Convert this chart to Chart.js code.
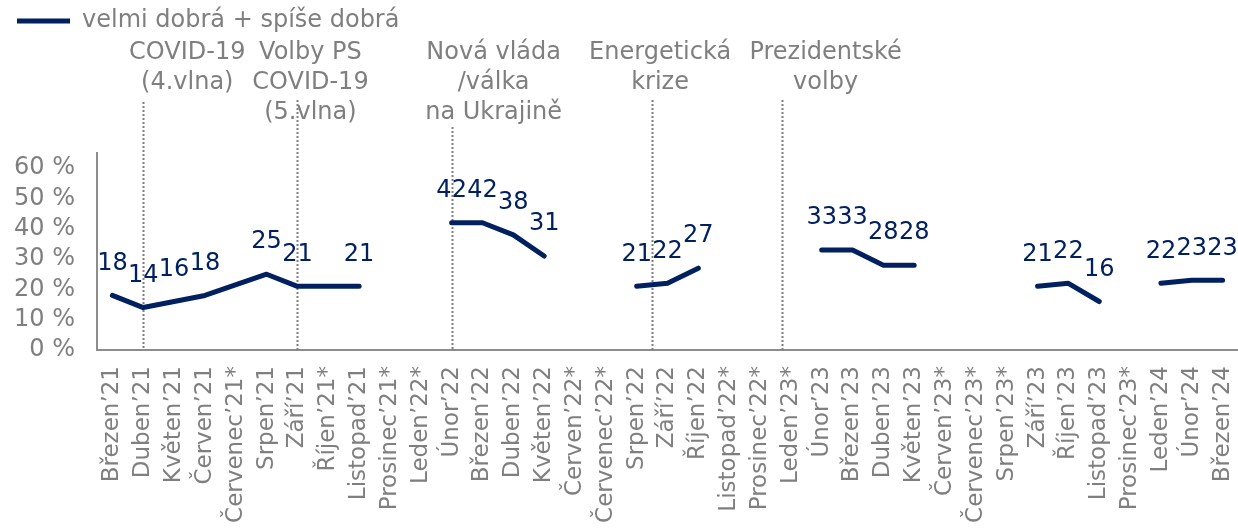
<!DOCTYPE html>
<html>
<head>
<meta charset="utf-8">
<script src="https://cdn.jsdelivr.net/npm/chart.js@4/dist/chart.umd.min.js"></script>
<style>
  html, body { margin: 0; padding: 0; background: #fff; }
  #wrap { width: 1238px; height: 530px; position: relative; }
</style>
</head>
<body>
<div id="wrap"><canvas id="c"></canvas></div>
<script>
// ── data ──
const months = [
  'Březen’21','Duben’21','Květen’21','Červen’21','Červenec’21*','Srpen’21','Září’21','Říjen’21*',
  'Listopad’21','Prosinec’21*','Leden’22*','Únor’22','Březen’22','Duben’22','Květen’22','Červen’22*',
  'Červenec’22*','Srpen’22','Září’22','Říjen’22','Listopad’22*','Prosinec’22*','Leden’23*','Únor’23',
  'Březen’23','Duben’23','Květen’23','Červen’23*','Červenec’23*','Srpen’23*','Září’23','Říjen’23',
  'Listopad’23','Prosinec’23*','Leden’24','Únor’24','Březen’24'
];
const goodShare = [
  18, 14, 16, 18, null, 25, 21, null,
  21, null, null, 42, 42, 38, 31, null,
  null, 21, 22, 27, null, null, null, 33,
  33, 28, 28, null, null, null, 21, 22,
  16, null, 22, 23, 23
];
const seriesName = 'velmi dobrá + spíše dobrá';
// months without a survey where the line is still drawn through
const bridged = ['Červenec’21*', 'Říjen’21*'];
const yTicks = [0, 10, 20, 30, 40, 50, 60];

// events: position on the month axis (index) and caption lines
const eventAt = [1, 6, 11, 17.5, 21.7];
const eventText = [
  ['COVID-19', '(4.vlna)'],
  ['Volby PS', 'COVID-19', '(5.vlna)'],
  ['Nová vláda', '/válka', 'na Ukrajině'],
  ['Energetická', 'krize'],
  ['Prezidentské', 'volby']
];

// ── style ──
const NAVY = '#002060';
const GREY = '#7f7f7f';
const FONT = '"DejaVu Sans", Verdana, sans-serif';
const evDx = [44, 13, 42, 8, 44];      // caption shift from its line
const evLineTop = [102, 100, 127, 100, 100];

const legendSpace = {
  id: 'legendSpace',
  beforeInit(chart) {
    const fit = chart.legend.fit;
    chart.legend.fit = function () { fit.call(this); this.height = 153; };
  }
};

const events = {
  id: 'events',
  beforeDatasetsDraw(chart) {
    const { ctx, scales: { x }, chartArea } = chart;
    ctx.save();
    ctx.strokeStyle = GREY;
    ctx.lineWidth = 2;
    ctx.setLineDash([2, 2]);
    eventAt.forEach((v, i) => {
      const px = Math.round(x.getPixelForValue(v)) + 0.5;
      ctx.beginPath();
      ctx.moveTo(px, evLineTop[i]);
      ctx.lineTo(px, chartArea.bottom);
      ctx.stroke();
    });
    ctx.setLineDash([]);
    ctx.font = '24px ' + FONT;
    ctx.fillStyle = GREY;
    ctx.textAlign = 'center';
    ctx.textBaseline = 'middle';
    eventAt.forEach((v, i) => {
      const px = x.getPixelForValue(v) + evDx[i];
      eventText[i].forEach((t, j) => ctx.fillText(t, px, 53 + j * 30));
    });
    ctx.restore();
  }
};

const valueLabels = {
  id: 'valueLabels',
  afterDatasetsDraw(chart) {
    const { ctx } = chart;
    const meta = chart.getDatasetMeta(0);
    ctx.save();
    ctx.font = '24px ' + FONT;
    ctx.fillStyle = NAVY;
    ctx.textAlign = 'center';
    ctx.textBaseline = 'middle';
    meta.data.forEach((pt, i) => {
      const v = goodShare[i];
      if (v == null) return;
      ctx.fillText(String(v), pt.x, pt.y - 32);
    });
    ctx.restore();
  }
};

// hide connecting segments over months that were not bridged
const gapColor = ctx => {
  let k = ctx.p1DataIndex - 1;
  while (k >= 0 && goodShare[k] == null) {
    if (!bridged.includes(months[k])) return 'rgba(0,0,0,0)';
    k--;
  }
  return undefined;
};

new Chart(document.getElementById('c'), {
  type: 'line',
  data: {
    labels: months,
    datasets: [{
      label: seriesName,
      data: goodShare,
      borderColor: NAVY,
      backgroundColor: NAVY,
      borderWidth: 5,
      borderCapStyle: 'round',
      borderJoinStyle: 'round',
      pointRadius: 0,
      pointHoverRadius: 0,
      tension: 0,
      spanGaps: true,
      segment: { borderColor: gapColor }
    }]
  },
  options: {
    responsive: true,
    maintainAspectRatio: false,
    animation: false,
    devicePixelRatio: 1,
    layout: { padding: { left: 8, top: 0, right: 0, bottom: 0 } },
    plugins: {
      legend: {
        display: true,
        position: 'top',
        align: 'start',
        labels: {
          usePointStyle: true,
          pointStyle: 'line',
          pointStyleWidth: 53,
          padding: 9,
          color: GREY,
          font: { family: FONT, size: 24 }
        }
      },
      tooltip: { enabled: false }
    },
    scales: {
      x: {
        type: 'category',
        offset: true,
        grid: { display: false, drawTicks: false },
        border: { display: true, color: '#8c8c8c', width: 2 },
        ticks: {
          autoSkip: false, maxRotation: 90, minRotation: 90,
          padding: 16, color: GREY, font: { family: FONT, size: 23 }
        },
        afterFit: s => { s.height = 180; s.paddingRight = 0; s.paddingLeft = 0; }
      },
      y: {
        min: 0, max: 65,
        grid: { display: false, drawTicks: false },
        border: { display: true, color: '#8c8c8c', width: 2 },
        afterBuildTicks: s => { s.ticks = yTicks.map(v => ({ value: v })); },
        ticks: {
          padding: 22, color: GREY, font: { family: FONT, size: 24 },
          callback: v => v + ' %'
        },
        afterFit: s => { s.width = 89; s.paddingTop = 0; s.paddingBottom = 0; }
      }
    }
  },
  plugins: [legendSpace, events, valueLabels]
});
</script>
</body>
</html>
